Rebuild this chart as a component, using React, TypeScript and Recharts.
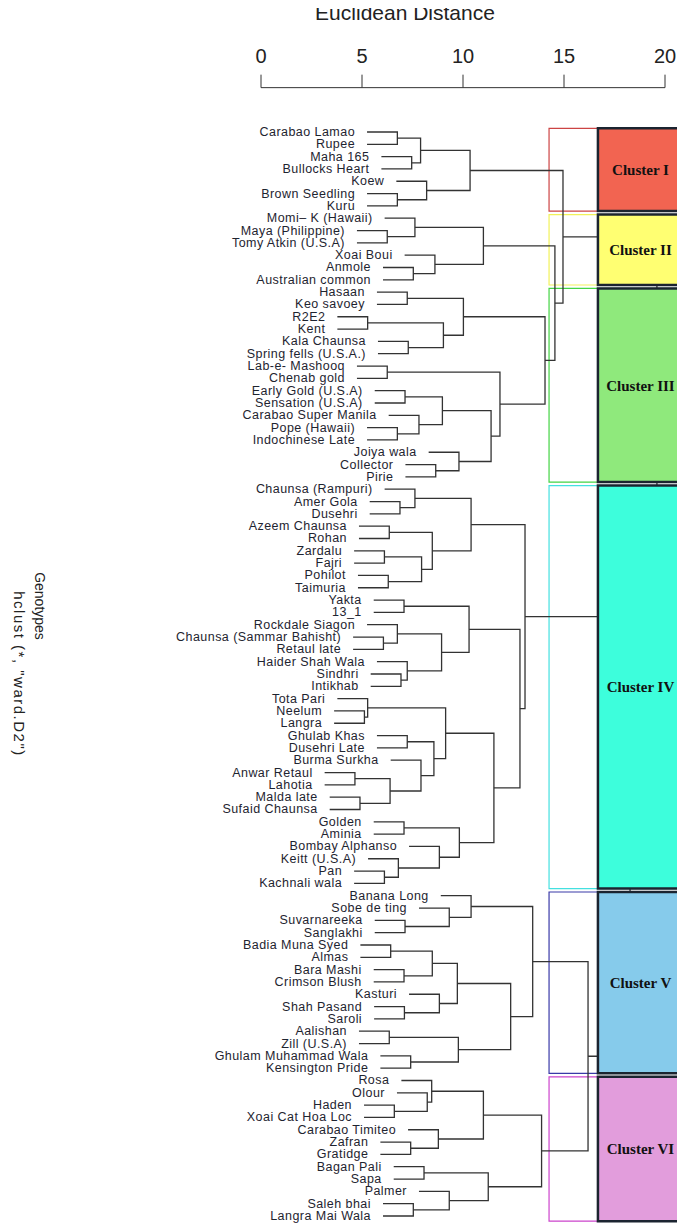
import { ScatterChart, Scatter, XAxis, YAxis, ReferenceArea } from 'recharts';

// genotypes, top to bottom
const leafNames = [
  'Carabao Lamao', 'Rupee', 'Maha 165', 'Bullocks Heart', 'Koew', 'Brown Seedling', 'Kuru',
  'Momi– K (Hawaii)', 'Maya (Philippine)', 'Tomy Atkin (U.S.A)', 'Xoai Boui', 'Anmole', 'Australian common',
  'Hasaan', 'Keo savoey', 'R2E2', 'Kent', 'Kala Chaunsa', 'Spring fells (U.S.A.)', 'Lab-e- Mashooq',
  'Chenab gold', 'Early Gold (U.S.A)', 'Sensation (U.S.A)', 'Carabao Super Manila', 'Pope (Hawaii)',
  'Indochinese Late', 'Joiya wala', 'Collector', 'Pirie',
  'Chaunsa (Rampuri)', 'Amer Gola', 'Dusehri', 'Azeem Chaunsa', 'Rohan', 'Zardalu', 'Fajri', 'Pohilot',
  'Taimuria', 'Yakta', '13_1', 'Rockdale Siagon', 'Chaunsa (Sammar Bahisht)', 'Retaul late',
  'Haider Shah Wala', 'Sindhri', 'Intikhab', 'Tota Pari', 'Neelum', 'Langra', 'Ghulab Khas',
  'Dusehri Late', 'Burma Surkha', 'Anwar Retaul', 'Lahotia', 'Malda late', 'Sufaid Chaunsa', 'Golden',
  'Aminia', 'Bombay Alphanso', 'Keitt (U.S.A)', 'Pan', 'Kachnali wala',
  'Banana Long', 'Sobe de ting', 'Suvarnareeka', 'Sanglakhi', 'Badia Muna Syed', 'Almas', 'Bara Mashi',
  'Crimson Blush', 'Kasturi', 'Shah Pasand', 'Saroli', 'Aalishan', 'Zill (U.S.A)',
  'Ghulam Muhammad Wala', 'Kensington Pride',
  'Rosa', 'Olour', 'Haden', 'Xoai Cat Hoa Loc', 'Carabao Timiteo', 'Zafran', 'Gratidge', 'Bagan Pali',
  'Sapa', 'Palmer', 'Saleh bhai', 'Langra Mai Wala',
];

// hclust style merge matrix: negative = leaf number, positive = earlier merge row
const merges: [number, number, number][] = [
  [-1, -2, 6.75], [-3, -4, 7.46], [1, 2, 7.9], [-6, -7, 6.75], [-5, 4, 8.2], [3, 5, 10.35],
  [-9, -10, 6.25], [-8, 7, 7.62], [-12, -13, 7.54], [-11, 9, 8.61], [8, 10, 11.01],
  [-14, -15, 7.24], [-16, -17, 5.28], [-18, -19, 7.29], [13, 14, 9.03], [12, 15, 10.02],
  [-20, -21, 6.25], [-22, -23, 7.13], [-25, -26, 6.75], [-24, 19, 7.82], [18, 20, 8.98],
  [-28, -29, 8.65], [-27, 22, 9.8], [21, 23, 11.39], [17, 24, 11.83], [16, 25, 14.06],
  [-31, -32, 6.88], [-30, 27, 7.62], [-33, -34, 6.35], [-35, -36, 6.11], [-37, -38, 6.3],
  [30, 31, 7.95], [29, 32, 8.48], [28, 33, 10.4],
  [-39, -40, 7.08], [-42, -43, 6.06], [-41, 36, 6.75], [-45, -46, 6.93], [-44, 38, 7.24],
  [37, 39, 8.94], [35, 40, 10.3],
  [-48, -49, 5.12], [-47, 42, 5.28], [-50, -51, 7.24], [-53, -54, 4.65], [-55, -56, 4.9],
  [45, 46, 6.39], [-52, 47, 7.92], [44, 48, 8.56], [43, 49, 9.14],
  [-57, -58, 7.08], [-61, -62, 6.11], [-60, 52, 6.8], [-59, 53, 8.83], [51, 54, 9.82],
  [50, 55, 11.53], [41, 56, 12.82], [34, 57, 13.07],
  [-65, -66, 7.13], [-64, 59, 9.32], [-63, 60, 10.4], [-67, -68, 6.42], [-69, -70, 7.08],
  [62, 63, 8.48], [-72, -73, 7.1], [-71, 65, 8.83], [64, 66, 9.72], [-74, -75, 6.35],
  [-76, -77, 7.41], [68, 69, 9.77], [67, 70, 12.36], [61, 71, 13.45],
  [-80, -81, 6.6], [-79, 73, 8.23], [-78, 74, 8.45], [-83, -84, 7.41], [-82, 76, 8.78],
  [75, 77, 11.01], [-85, -86, 8.07], [-88, -89, 7.54], [-87, 80, 9.32], [79, 81, 11.25],
  [78, 82, 13.89],
  [72, 83, 16.19], [58, 84, 18.27], [11, 26, 14.55], [6, 86, 14.95], [87, 85, 19.6],
];

const hang = 1.5;

const clusterNames = ['Cluster I', 'Cluster II', 'Cluster III', 'Cluster IV', 'Cluster V', 'Cluster VI'];
const clusterFirst = [1, 8, 14, 30, 63, 78];
const clusterLast = [7, 13, 29, 62, 77, 89];
const clusterFill = ['#f26451', '#ffff72', '#8fe97c', '#3dfedc', '#86cbeb', '#e29ddc'];
const clusterOutline = ['#cc4444', '#f2f25a', '#44d444', '#44e0e0', '#3a3aa8', '#cc44cc'];

const xTicks = [0, 5, 10, 15, 20];

// tree layout
const nodeY: number[] = [];
const leafParentH: number[] = [];
const yOf = (c: number) => (c < 0 ? -c : nodeY[c]);
merges.forEach(([a, b, h], i) => {
  nodeY[i + 1] = (yOf(a) + yOf(b)) / 2;
  if (a < 0) leafParentH[-a] = h;
  if (b < 0) leafParentH[-b] = h;
});
const xOf = (c: number, h: number) => (c < 0 ? h - hang : merges[c - 1][2]);
const links = merges.map(([a, b, h]) => [
  { x: xOf(a, h), y: yOf(a) },
  { x: h, y: yOf(a) },
  { x: h, y: yOf(b) },
  { x: xOf(b, h), y: yOf(b) },
]);
const leafPoints = leafNames.map((name, i) => ({ x: leafParentH[i + 1] - hang, y: i + 1, name }));

const sans = '"Liberation Sans", Arial, sans-serif';

const LeafLabel = (props: any) => (
  <text
    x={props.cx - 12}
    y={props.cy}
    textAnchor="end"
    dominantBaseline="central"
    fontSize={12.5}
    fontFamily={sans}
    fill="#1e2430"
    style={{ letterSpacing: 0.45 }}
  >
    {props.payload.name}
  </text>
);

export default function App() {
  return (
    <div style={{ position: 'relative', width: 685, height: 1225, margin: '-8px 0 0 -8px' }}>
      <ScatterChart width={685} height={1225} margin={{ top: 0, right: 20, bottom: 2.85, left: 261 }}>
        <XAxis
          type="number"
          dataKey="x"
          orientation="top"
          domain={[0, 20]}
          ticks={xTicks}
          height={87.65}
          tickSize={13}
          tickMargin={12}
          stroke="#333"
          tick={{ fontSize: 20, fill: '#222', fontFamily: sans }}
        />
        <YAxis type="number" dataKey="y" domain={[-2.6, 89.5]} reversed hide />
        {links.map((d, i) => (
          <Scatter
            key={'l' + i}
            data={d}
            line={{ stroke: '#333', strokeWidth: 1.3 }}
            lineType="joint"
            shape={() => <g />}
            legendType="none"
            isAnimationActive={false}
          />
        ))}
        <Scatter data={leafPoints} shape={LeafLabel} legendType="none" isAnimationActive={false} />
        {clusterNames.map((c, i) => (
          <ReferenceArea
            key={'o' + c}
            x1={14.26}
            x2={20.89}
            y1={clusterFirst[i] - 0.3}
            y2={clusterLast[i] + 0.42}
            fill="none"
            fillOpacity={0}
            stroke={clusterOutline[i]}
            strokeWidth={1.2}
            ifOverflow="visible"
          />
        ))}
        {clusterNames.map((c, i) => (
          <ReferenceArea
            key={'f' + c}
            x1={16.68}
            x2={20.89}
            y1={clusterFirst[i] - 0.3}
            y2={clusterLast[i] + 0.42}
            fill={clusterFill[i]}
            fillOpacity={1}
            stroke="#1b2430"
            strokeWidth={2.5}
            ifOverflow="visible"
            zIndex={900}
            label={{
              value: c,
              position: 'center',
              fill: '#111',
              fontSize: 15,
              fontWeight: 'bold',
              fontFamily: '"Liberation Serif", "Times New Roman", serif',
            }}
          />
        ))}
      </ScatterChart>
      <div
        style={{
          position: 'absolute',
          left: 405,
          top: 2,
          transform: 'translateX(-50%)',
          whiteSpace: 'nowrap',
          fontFamily: sans,
          fontSize: 21,
          lineHeight: '22px',
          color: '#222',
        }}
      >
        Euclidean Distance
      </div>
      <div
        style={{
          position: 'absolute',
          left: 40,
          top: 606,
          transform: 'translate(-50%, -50%) rotate(90deg)',
          whiteSpace: 'nowrap',
          fontFamily: sans,
          fontSize: 14,
          color: '#222',
        }}
      >
        Genotypes
      </div>
      <div
        style={{
          position: 'absolute',
          left: 19,
          top: 674,
          transform: 'translate(-50%, -50%) rotate(90deg)',
          whiteSpace: 'nowrap',
          fontFamily: sans,
          fontSize: 15,
          letterSpacing: 1.5,
          color: '#222',
        }}
      >
        hclust (*, "ward.D2")
      </div>
    </div>
  );
}
